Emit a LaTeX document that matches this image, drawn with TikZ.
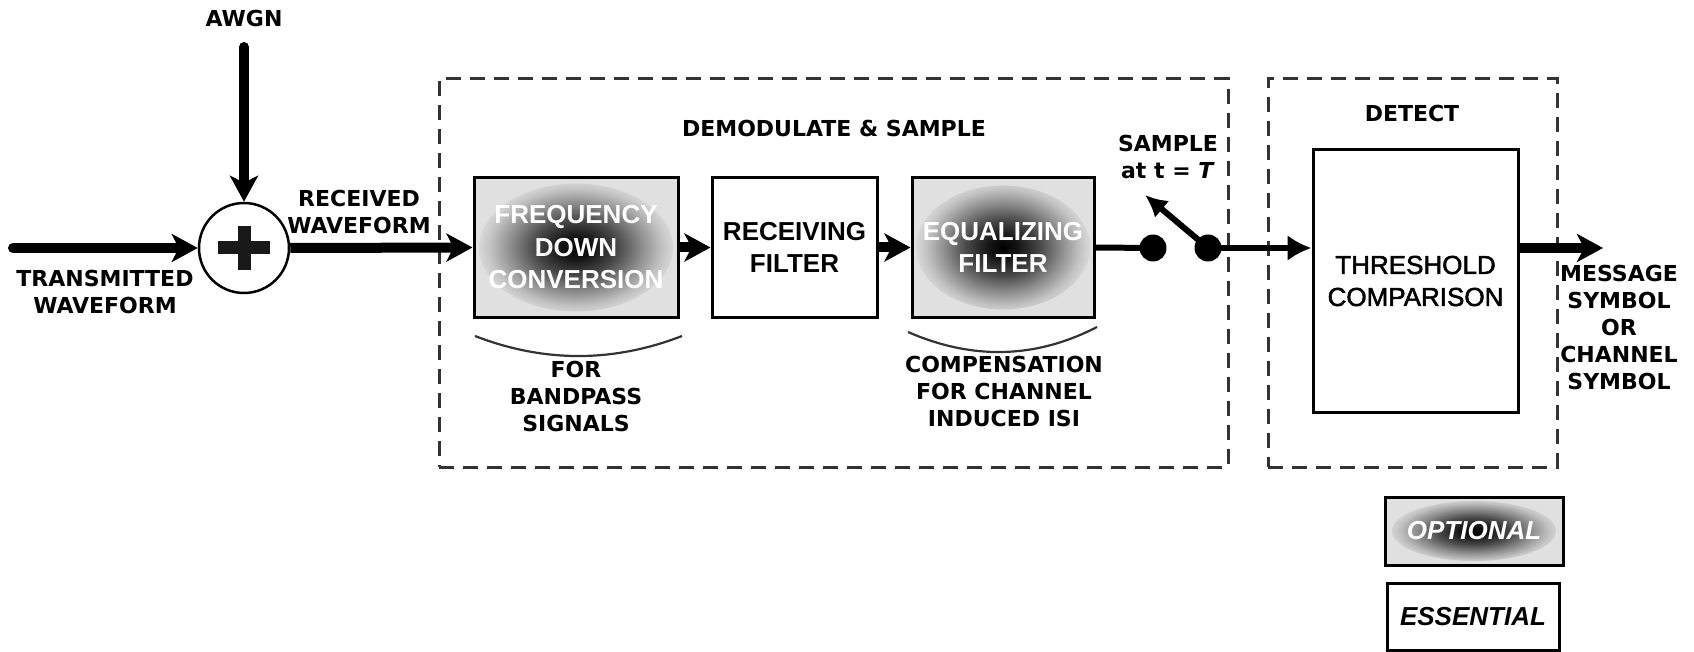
\documentclass[tikz,border=0pt]{standalone}
\usepackage{fontspec}
\setmainfont{Liberation Sans}
\newfontfamily\lblfont{DejaVu Sans}
\usetikzlibrary{arrows.meta}
\definecolor{boxgray}{gray}{0.88}
\definecolor{dashgray}{gray}{0.2}
\pgfdeclareradialshading{blob}{\pgfpoint{0bp}{0bp}}{color(0bp)=(black); color(4bp)=(black!92); color(10bp)=(black!72); color(16bp)=(black!45); color(21bp)=(black!24); color(25bp)=(boxgray); color(50bp)=(boxgray)}
\begin{document}
\begin{tikzpicture}[x=1pt,y=-1pt,
  lbl/.style={font=\lblfont\bfseries\fontsize{22}{27}\selectfont, align=center, inner sep=0pt},
  blk/.style={draw, line width=3pt, inner sep=0pt, align=center, font=\bfseries\fontsize{26}{32.5}\selectfont},
  optblk/.style 2 args={blk, fill=boxgray, text=white, path picture={\shade[shading=blob] (path picture bounding box.center) ellipse [x radius=#1, y radius=#2];}},
  group/.style={draw=dashgray, line width=3pt, dash pattern=on 15pt off 9pt, inner sep=0pt},
  bigarrow/.style={line width=10pt, -{Stealth[length=26pt,width=28pt,inset=7pt]}},
  smallarrow/.style={line width=6pt, -{Latex[length=24pt,width=26pt]}},
  armarrow/.style={line width=6pt, -{Latex[length=22pt,width=22pt]}},
  contact/.style={circle, fill=black, minimum size=27pt, inner sep=0pt},
  brace/.style={line width=2.2pt, draw=dashgray}
]
\useasboundingbox (0,0) rectangle (1694,652);

% group boxes
\node[group, minimum width=789pt, minimum height=388pt] (demod) at (833.5,273) {};
\node[group, minimum width=289pt, minimum height=388pt] (detect) at (1412.5,273) {};

% blocks
\node[optblk={97pt}{64pt}, minimum width=204pt, minimum height=139pt] (freq) at (576,247.5) {FREQUENCY\\DOWN\\CONVERSION};
\node[blk, minimum width=165pt, minimum height=139pt] (recv) at (794.5,247.5) {RECEIVING\\FILTER};
\node[optblk={87pt}{62pt}, minimum width=182pt, minimum height=139pt] (equal) at (1003,247.5) {EQUALIZING\\FILTER};
\node[blk, minimum width=205pt, minimum height=262pt, font=\addfontfeature{FakeBold=2}\fontsize{26}{32}\selectfont] (thresh) at (1415.5,281) {THRESHOLD\\COMPARISON};

% summing junction
\node[circle, draw, line width=2.5pt, minimum size=90pt, inner sep=0pt] (sum) at (244,248) {};
\draw[line width=13pt, draw=black!90] ([xshift=-26pt]sum.center) -- ([xshift=26pt]sum.center)
  ([yshift=-22pt]sum.center) -- ([yshift=22pt]sum.center);

% switch contacts
\node[contact] (dot1) at (1153,248) {};
\node[contact] (dot2) at (1208,248) {};

% free ends
\coordinate (txstart) at (13,248);
\coordinate (awgnstart) at (244,47);
\coordinate (outend) at (1603,248);
\coordinate (armtip) at (1145,195);

% connectors
\draw[bigarrow, line cap=round] (txstart) -- (sum.west);
\draw[bigarrow, line cap=round] (awgnstart) -- (sum.north);
\draw[bigarrow] (sum.east) -- (freq.west);
\draw[bigarrow] (freq.east) -- (recv.west);
\draw[bigarrow] (recv.east) -- (equal.west);
\draw[line width=6pt] (equal.east) -- (dot1.center);
\draw[armarrow] (dot2.center) -- (armtip);
\draw[smallarrow] (dot2.center) -- (dot2 -| thresh.west);
\draw[bigarrow] (outend -| thresh.east) -- (outend);

% braces
\coordinate (b1a) at (475,336);
\coordinate (b1c) at (544,362.7);
\coordinate (b1d) at (613,362.7);
\coordinate (b1b) at (682,336);
\draw[brace] (b1a) .. controls (b1c) and (b1d) .. (b1b);
\coordinate (b2a) at (908,332);
\coordinate (b2c) at (971,359.5);
\coordinate (b2d) at (1034,359.5);
\coordinate (b2b) at (1097,327);
\draw[brace] (b2a) .. controls (b2c) and (b2d) .. (b2b);

% labels
\node[lbl] (awgnlbl) at (244,18) {AWGN};
\node[lbl] (txlbl) at (105,291.5) {TRANSMITTED\\WAVEFORM};
\node[lbl] (rxlbl) at (359,212) {RECEIVED\\WAVEFORM};
\node[lbl] (demodlbl) at (834,128) {DEMODULATE \& SAMPLE};
\node[lbl] (bplbl) at (576,396) {FOR\\BANDPASS\\SIGNALS};
\node[lbl] (isilbl) at (1004,391) {COMPENSATION\\FOR CHANNEL\\INDUCED ISI};
\node[lbl] (samplbl) at (1168,157) {SAMPLE\\at t = \textit{T}};
\node[lbl] (detlbl) at (1412,113) {DETECT};
\node[lbl] (outlbl) at (1619,327) {MESSAGE\\SYMBOL\\OR\\CHANNEL\\SYMBOL};

% legend
\node[optblk={82pt}{30pt}, minimum width=178pt, minimum height=68pt, font=\bfseries\itshape\fontsize{26}{30}\selectfont] (opt) at (1474,531) {OPTIONAL};
\node[blk, minimum width=172pt, minimum height=67pt, font=\bfseries\itshape\fontsize{26}{30}\selectfont] (ess) at (1473,616.5) {ESSENTIAL};
\end{tikzpicture}
\end{document}
